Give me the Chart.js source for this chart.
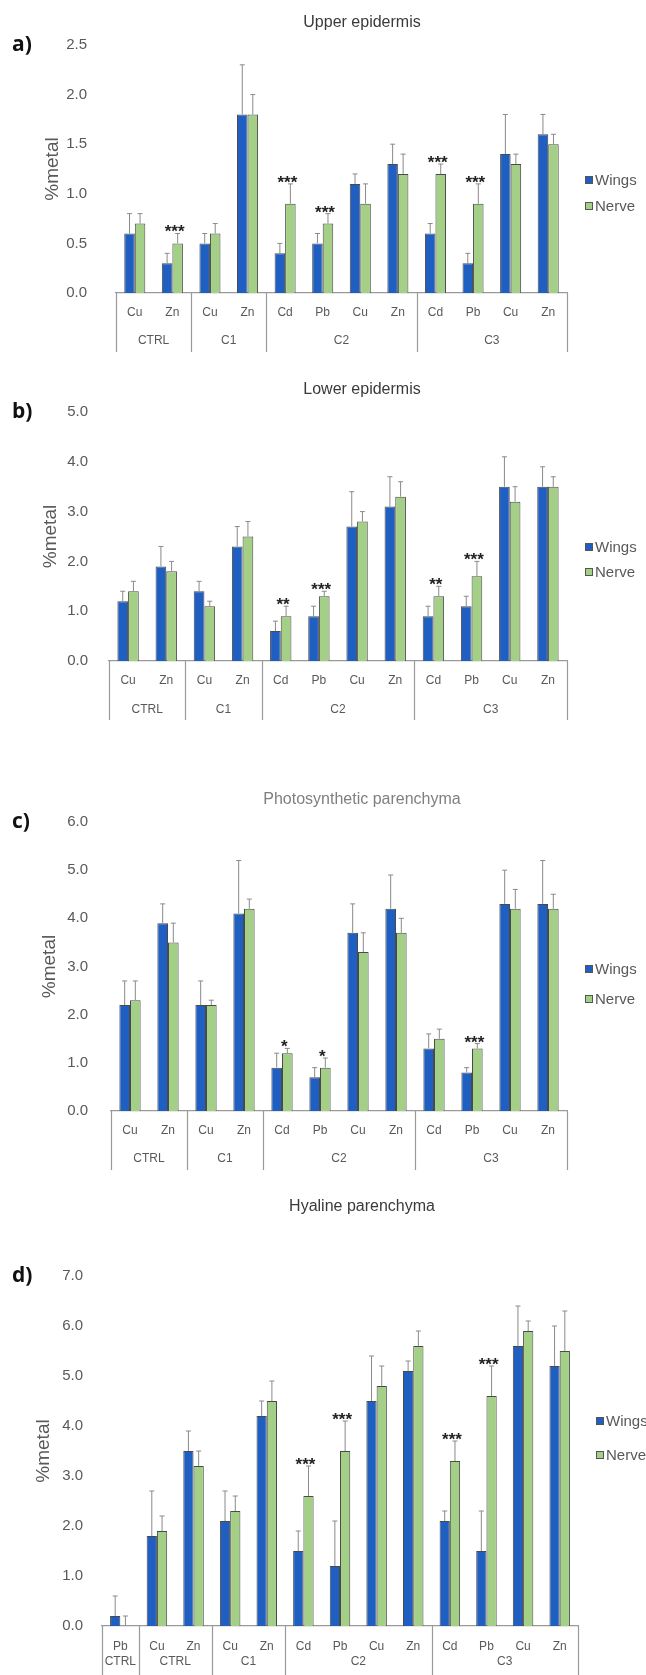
<!DOCTYPE html>
<html>
<head>
<meta charset="utf-8">
<script src="https://cdn.jsdelivr.net/npm/chart.js@4.4.1/dist/chart.umd.min.js"></script>
<style>
  body { margin: 0; background: #fff; width: 646px; height: 1675px; position: relative; overflow: hidden; }
  canvas { position: absolute; left: 0; }
</style>
</head>
<body>
<canvas id="upper" width="646" height="365" style="top:0px"></canvas>
<canvas id="lower" width="646" height="370" style="top:370px"></canvas>
<canvas id="photo" width="646" height="395" style="top:780px"></canvas>
<canvas id="hyaline" width="646" height="485" style="top:1190px"></canvas>
<script>
// categories
const metals = ['Cu', 'Zn', 'Cu', 'Zn', 'Cd', 'Pb', 'Cu', 'Zn', 'Cd', 'Pb', 'Cu', 'Zn']
const groupNames = ['CTRL', 'C1', 'C2', 'C3']
const groupSizes = [2, 2, 4, 4]
const hyalineMetals = ['Pb', 'Cu', 'Zn', 'Cu', 'Zn', 'Cd', 'Pb', 'Cu', 'Zn', 'Cd', 'Pb', 'Cu', 'Zn']
const hyalineGroupNames = ['CTRL', 'CTRL', 'C1', 'C2', 'C3']
const hyalineGroupSizes = [1, 2, 2, 4, 4]
const seriesNames = ['Wings', 'Nerve']

// a) upper epidermis
const upperWings    = [0.6, 0.3, 0.5, 1.8, 0.4, 0.5, 1.1, 1.3, 0.6, 0.3, 1.4, 1.6]
const upperWingsErr = [0.2, 0.1, 0.1, 0.5, 0.1, 0.1, 0.1, 0.2, 0.1, 0.1, 0.4, 0.2]
const upperNerve    = [0.7, 0.5, 0.6, 1.8, 0.9, 0.7, 0.9, 1.2, 1.2, 0.9, 1.3, 1.5]
const upperNerveErr = [0.1, 0.1, 0.1, 0.2, 0.2, 0.1, 0.2, 0.2, 0.1, 0.2, 0.1, 0.1]
const upperStars    = ['', '***', '', '', '***', '***', '', '', '***', '***', '', '']
const upperTicks    = [0, 0.5, 1.0, 1.5, 2.0, 2.5]

// b) lower epidermis
const lowerWings    = [1.2, 1.9, 1.4, 2.3, 0.6, 0.9, 2.7, 3.1, 0.9, 1.1, 3.5, 3.5]
const lowerWingsErr = [0.2, 0.4, 0.2, 0.4, 0.2, 0.2, 0.7, 0.6, 0.2, 0.2, 0.6, 0.4]
const lowerNerve    = [1.4, 1.8, 1.1, 2.5, 0.9, 1.3, 2.8, 3.3, 1.3, 1.7, 3.2, 3.5]
const lowerNerveErr = [0.2, 0.2, 0.1, 0.3, 0.2, 0.1, 0.2, 0.3, 0.2, 0.3, 0.3, 0.2]
const lowerStars    = ['', '', '', '', '**', '***', '', '', '**', '***', '', '']
const lowerTicks    = [0, 1.0, 2.0, 3.0, 4.0, 5.0]

// c) photosynthetic parenchyma
const photoWings    = [2.2, 3.9, 2.2, 4.1, 0.9, 0.7, 3.7, 4.2, 1.3, 0.8, 4.3, 4.3]
const photoWingsErr = [0.5, 0.4, 0.5, 1.1, 0.3, 0.2, 0.6, 0.7, 0.3, 0.1, 0.7, 0.9]
const photoNerve    = [2.3, 3.5, 2.2, 4.2, 1.2, 0.9, 3.3, 3.7, 1.5, 1.3, 4.2, 4.2]
const photoNerveErr = [0.4, 0.4, 0.1, 0.2, 0.1, 0.2, 0.4, 0.3, 0.2, 0.1, 0.4, 0.3]
const photoStars    = ['', '', '', '', '*', '*', '', '', '', '***', '', '']
const photoTicks    = [0, 1.0, 2.0, 3.0, 4.0, 5.0, 6.0]

// d) hyaline parenchyma
const hyalineWings    = [0.2, 1.8, 3.5, 2.1, 4.2, 1.5, 1.2, 4.5, 5.1, 2.1, 1.5, 5.6, 5.2]
const hyalineWingsErr = [0.4, 0.9, 0.4, 0.6, 0.3, 0.4, 0.9, 0.9, 0.2, 0.2, 0.8, 0.8, 0.8]
const hyalineNerve    = [0.0, 1.9, 3.2, 2.3, 4.5, 2.6, 3.5, 4.8, 5.6, 3.3, 4.6, 5.9, 5.5]
const hyalineNerveErr = [0.2, 0.3, 0.3, 0.3, 0.4, 0.6, 0.6, 0.4, 0.3, 0.4, 0.6, 0.2, 0.8]
const hyalineStars    = ['', '', '', '', '', '***', '***', '', '', '***', '***', '', '']
const hyalineTicks    = [0, 1.0, 2.0, 3.0, 4.0, 5.0, 6.0, 7.0]

const WING_COLOR = '#1f5fc1'
const NERVE_COLOR = '#a3cf86'
const GREY = '#595959'
const FONT = "'Liberation Sans', Arial, sans-serif"

// draws error bars, stars, group row, titles and legend
const decorPlugin = {
    id: 'decor',
    afterDatasetsDraw(chart, args, opts) {
        const { ctx, scales: { y } } = chart
        ctx.save()
        chart.data.datasets.forEach((ds, di) => {
            const meta = chart.getDatasetMeta(di)
            meta.data.forEach((bar, i) => {
                const top = y.getPixelForValue(ds.data[i] + ds.errors[i])
                ctx.strokeStyle = '#8a8a8a'
                ctx.lineWidth = 1
                ctx.beginPath()
                ctx.moveTo(bar.x, bar.y)
                ctx.lineTo(bar.x, top)
                ctx.moveTo(bar.x - 2.5, top)
                ctx.lineTo(bar.x + 2.5, top)
                ctx.stroke()
            })
        })
        // significance stars above the nerve bars
        const nerve = chart.data.datasets[1]
        const nerveMeta = chart.getDatasetMeta(1)
        ctx.fillStyle = '#222'
        ctx.font = 'bold 17px ' + FONT
        ctx.textAlign = 'center'
        ctx.textBaseline = 'alphabetic'
        opts.stars.forEach((s, i) => {
            if (!s) return
            const bar = nerveMeta.data[i]
            const top = y.getPixelForValue(nerve.data[i] + nerve.errors[i])
            ctx.fillText(s, bar.x - 3, top + 4)
        })
        ctx.restore()
    },
    afterDraw(chart, args, opts) {
        const { ctx, chartArea, scales: { x } } = chart
        ctx.save()
        // title and panel letter
        ctx.textAlign = 'center'
        ctx.textBaseline = 'middle'
        ctx.fillStyle = opts.titleColor
        ctx.font = '16px ' + FONT
        ctx.fillText(opts.title, opts.titleX, opts.titleY)
        ctx.textAlign = 'left'
        ctx.fillStyle = '#111'
        ctx.font = "bold 21px 'Open Sans', sans-serif"
        ctx.fillText(opts.letter, 12, chartArea.top)

        // group separators and group labels
        const half = (x.getPixelForValue(1) - x.getPixelForValue(0)) / 2
        const base = chartArea.bottom
        ctx.strokeStyle = '#9a9a9a'
        ctx.lineWidth = 1.2
        ctx.fillStyle = GREY
        ctx.font = '12px ' + FONT
        ctx.textAlign = 'center'
        let start = 0
        const edges = [x.getPixelForValue(0) - half]
        opts.groupSizes.forEach((n, g) => {
            const left = x.getPixelForValue(start) - half
            const right = x.getPixelForValue(start + n - 1) + half
            edges.push(right)
            ctx.fillText(opts.groupNames[g], (left + right) / 2, base + opts.groupLabelOffset)
            start += n
        })
        ctx.beginPath()
        edges.forEach(e => {
            ctx.moveTo(Math.round(e) + 0.5, base)
            ctx.lineTo(Math.round(e) + 0.5, base + opts.sepLength)
        })
        ctx.stroke()

        // legend
        ctx.font = '15px ' + FONT
        ctx.textAlign = 'left'
        chart.data.datasets.forEach((ds, di) => {
            const ly = opts.legendY[di]
            const lx = chartArea.right + opts.legendDx
            ctx.fillStyle = ds.backgroundColor
            ctx.fillRect(lx, ly - 4, 8, 8)
            ctx.strokeStyle = '#555'
            ctx.lineWidth = 1
            ctx.strokeRect(lx + 0.5, ly - 3.5, 7, 7)
            ctx.fillStyle = GREY
            ctx.fillText(ds.label, lx + 10, ly + 1)
        })
        ctx.restore()
    }
}

function makeChart(id, p) {
    const H = document.getElementById(id).height
    return new Chart(document.getElementById(id), {
        type: 'bar',
        data: {
            labels: p.labels,
            datasets: [
                { label: seriesNames[0], data: p.wings, errors: p.wingsErr, backgroundColor: WING_COLOR },
                { label: seriesNames[1], data: p.nerve, errors: p.nerveErr, backgroundColor: NERVE_COLOR }
            ]
        },
        plugins: [decorPlugin],
        options: {
            responsive: false,
            animation: false,
            layout: {
                padding: { left: p.padLeft, right: 646 - p.right, top: p.top, bottom: H - p.bottom - p.xh }
            },
            datasets: {
                bar: { categoryPercentage: 0.56, barPercentage: 1.0, borderWidth: 1, borderColor: '#4a4a4a' }
            },
            plugins: {
                legend: { display: false },
                tooltip: { enabled: false },
                decor: {
                    stars: p.stars,
                    groupNames: p.groupNames,
                    groupSizes: p.groupSizes,
                    title: p.title,
                    titleX: 362,
                    titleY: p.titleY,
                    titleColor: p.titleColor || '#3a3a3a',
                    letter: p.letter,
                    legendY: p.legendY,
                    legendDx: 18,
                    groupLabelOffset: p.groupOff,
                    sepLength: p.sepLen
                }
            },
            scales: {
                x: {
                    grid: { display: false },
                    border: { display: true, color: '#9a9a9a', width: 1.2 },
                    ticks: { color: GREY, font: { family: FONT, size: 12 }, padding: p.catPad, maxRotation: 0, autoSkip: false },
                    afterFit: s => { s.height = p.xh }
                },
                y: {
                    min: 0,
                    max: p.ticks[p.ticks.length - 1],
                    grid: { display: false, drawTicks: false },
                    border: { display: false },
                    afterBuildTicks: s => { s.ticks = p.ticks.map(v => ({ value: v })) },
                    ticks: {
                        color: GREY,
                        font: { family: FONT, size: 15 },
                        padding: p.tickPad,
                        callback: v => v.toFixed(1)
                    },
                    title: { display: true, text: '%metal', color: GREY, font: { family: FONT, size: 19 }, padding: 0 },
                    afterFit: s => { s.width = p.left - p.padLeft }
                }
            }
        }
    })
}

makeChart('upper', {
    labels: metals, groupNames, groupSizes,
    wings: upperWings, wingsErr: upperWingsErr, nerve: upperNerve, nerveErr: upperNerveErr,
    stars: upperStars, ticks: upperTicks,
    title: 'Upper epidermis', titleY: 23, letter: 'a)',
    top: 45, bottom: 293, left: 116, right: 567, padLeft: 41, tickPad: 29, xh: 60,
    catPad: 4, groupOff: 48, sepLen: 59,
    legendY: [180, 206]
})
makeChart('lower', {
    labels: metals, groupNames, groupSizes,
    wings: lowerWings, wingsErr: lowerWingsErr, nerve: lowerNerve, nerveErr: lowerNerveErr,
    stars: lowerStars, ticks: lowerTicks,
    title: 'Lower epidermis', titleY: 20, letter: 'b)',
    top: 42, bottom: 291, left: 109, right: 567, padLeft: 39, tickPad: 21, xh: 60,
    catPad: 4, groupOff: 49, sepLen: 59,
    legendY: [177, 202]
})
makeChart('photo', {
    labels: metals, groupNames, groupSizes,
    wings: photoWings, wingsErr: photoWingsErr, nerve: photoNerve, nerveErr: photoNerveErr,
    stars: photoStars, ticks: photoTicks,
    title: 'Photosynthetic parenchyma', titleY: 20, titleColor: '#7f7f7f', letter: 'c)',
    top: 42, bottom: 331, left: 111, right: 567, padLeft: 38, tickPad: 23, xh: 60,
    catPad: 4, groupOff: 48, sepLen: 59,
    legendY: [189, 219]
})
makeChart('hyaline', {
    labels: hyalineMetals, groupNames: hyalineGroupNames, groupSizes: hyalineGroupSizes,
    wings: hyalineWings, wingsErr: hyalineWingsErr, nerve: hyalineNerve, nerveErr: hyalineNerveErr,
    stars: hyalineStars, ticks: hyalineTicks,
    title: 'Hyaline parenchyma', titleY: 17, letter: 'd)',
    top: 86, bottom: 436, left: 102, right: 578, padLeft: 32, tickPad: 19, xh: 49,
    catPad: 5, groupOff: 36, sepLen: 49,
    legendY: [231, 265]
})
</script>
</body>
</html>
